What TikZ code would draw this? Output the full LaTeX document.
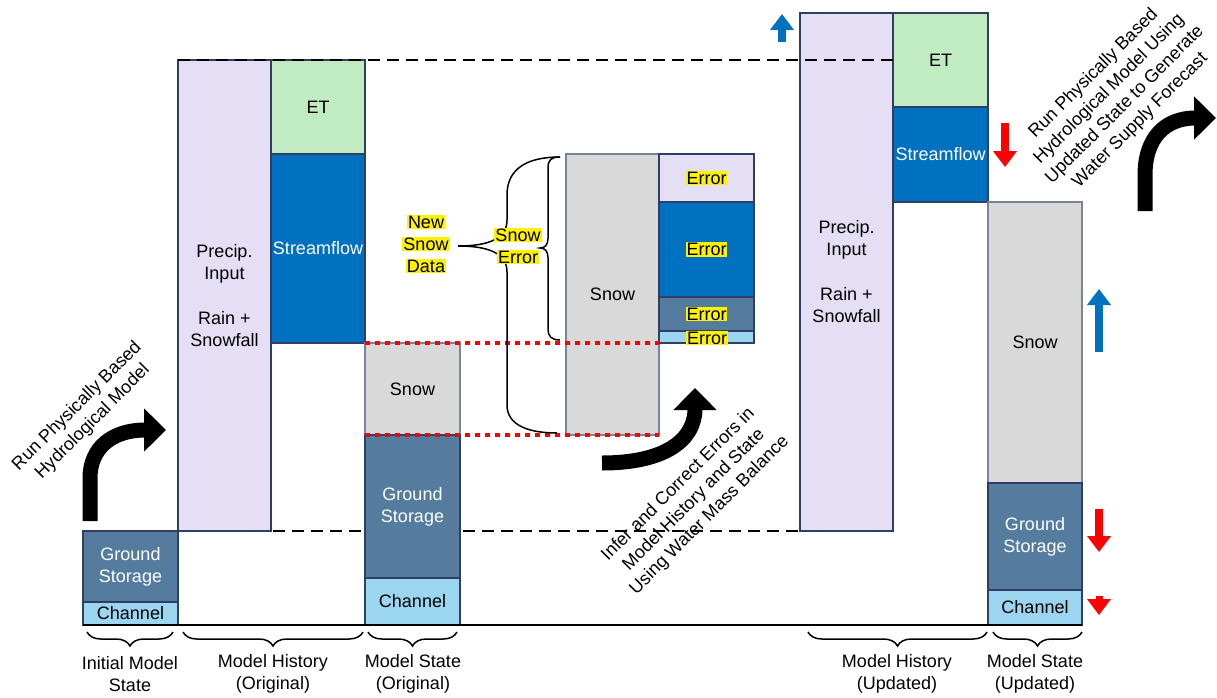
\documentclass[tikz,border=0pt]{standalone}
\usepackage{fontspec}
\setmainfont{Liberation Sans}
\usetikzlibrary{arrows.meta,decorations.pathreplacing}

\definecolor{precip}{RGB}{228,223,244}
\definecolor{etgreen}{RGB}{193,236,193}
\definecolor{flowblue}{RGB}{0,112,192}
\definecolor{snowgray}{RGB}{217,217,217}
\definecolor{ground}{RGB}{83,124,158}
\definecolor{channel}{RGB}{155,213,240}
\definecolor{edge}{RGB}{47,62,98}
\definecolor{snowedge}{RGB}{120,132,152}

\tikzset{
  box/.style={draw=edge, line width=1.2pt, inner sep=0pt, outer sep=0pt, anchor=north west, align=center},
  lbl/.style={align=center},
  hl/.style={fill=yellow, inner sep=0.8pt},
  bigarrow/.style={line width=15pt, -{Triangle[width=42pt,length=22pt]}},
  upd/.style={line width=8pt, -{Triangle[width=23pt,length=16pt]}},
  guide/.style={black, line width=2.5pt, dash pattern=on 12pt off 7pt},
  snowline/.style={red, line width=4pt, dash pattern=on 4.5pt off 5.5pt},
  curly/.style={decorate, decoration={brace, mirror, amplitude=14pt}, line width=1.5pt},
}
\newcommand{\yel}[1]{\colorbox{yellow}{#1}}
\setlength{\fboxsep}{1pt}

\begin{document}
\begin{tikzpicture}[x=1pt, y=-1pt, every node/.style={font=\fontsize{18pt}{22pt}\selectfont}]
\useasboundingbox (0,0) rectangle (1217,698);

\draw[guide] (178,531) -- (893,531);

\node[box, fill=ground, text=white, minimum width=95pt, minimum height=71pt] (gsI) at (83,531) {Ground\\Storage};
\node[box, fill=channel, minimum width=95pt, minimum height=23pt] (chI) at (83,602) {Channel};

\node[box, fill=precip, minimum width=93pt, minimum height=471pt] (precA) at (178,60) {Precip.\\Input\\[23pt]Rain +\\Snowfall};
\node[box, fill=etgreen, minimum width=94pt, minimum height=94pt] (etA) at (271,60) {ET};
\node[box, fill=flowblue, text=white, minimum width=94pt, minimum height=189pt] (sfA) at (271,154) {Streamflow};

\node[box, draw=snowedge, fill=snowgray, minimum width=95pt, minimum height=92pt] (snA) at (365,343) {Snow};
\node[box, fill=ground, text=white, minimum width=95pt, minimum height=143pt] (gsA) at (365,435) {Ground\\Storage};
\node[box, fill=channel, minimum width=95pt, minimum height=47pt] (chA) at (365,578) {Channel};

\node[box, draw=snowedge, fill=snowgray, minimum width=93pt, minimum height=281pt] (snM) at (566,154) {Snow};
\node[box, fill=precip, minimum width=95pt, minimum height=48pt] (erP) at (659,154) {};
\node[box, fill=flowblue, minimum width=95pt, minimum height=95pt] (erF) at (659,202) {};
\node[box, fill=ground, minimum width=95pt, minimum height=34pt] (erG) at (659,297) {};
\node[box, fill=channel, minimum width=95pt, minimum height=12pt] (erC) at (659,331) {};
\node[hl] (errP) at (erP) {Error};
\node[hl] (errF) at (erF) {Error};
\node[hl] (errG) at (erG) {Error};
\node[hl] (errC) at (707,338) {Error};

\node[box, fill=precip, minimum width=93pt, minimum height=518pt] (precB) at (800,13) {Precip.\\Input\\[23pt]Rain +\\Snowfall};
\node[box, fill=etgreen, minimum width=95pt, minimum height=94pt] (etB) at (893,13) {ET};
\node[box, fill=flowblue, text=white, minimum width=95pt, minimum height=95pt] (sfB) at (893,107) {Streamflow};

\node[box, draw=snowedge, fill=snowgray, minimum width=94pt, minimum height=281pt] (snB) at (988,202) {Snow};
\node[box, fill=ground, text=white, minimum width=94pt, minimum height=107pt] (gsB) at (988,483) {Ground\\Storage};
\node[box, fill=channel, minimum width=94pt, minimum height=35pt] (chB) at (988,590) {Channel};

\draw[guide] (precA.north west) -- (precA.north west -| etB.west);
\draw[snowline] (snA.north west) -- (erC.south west);
\draw[snowline] (snA.south west) -- (snM.south east);
\draw[line width=2pt] (chI.south west) -- (chB.south east);

\draw[line width=1.5pt] (560,157) .. controls (528,157) and (507,168) .. (507,195) -- (507,220) .. controls (507,238) and (490,246) .. (458,246) .. controls (490,246) and (507,254) .. (507,272) -- (507,405) .. controls (507,425) and (528,433) .. (557,433);
\draw[line width=1.5pt] (560,157) .. controls (551,157) and (548,160) .. (548,168) -- (548,238) .. controls (548,245) and (545,248) .. (540,248) .. controls (545,248) and (548,251) .. (548,258) -- (548,329) .. controls (548,336) and (551,340) .. (560,340);
\node[lbl] (newdata) at (426,244) {\yel{New}\\\yel{Snow}\\\yel{Data}};
\node[lbl] (snowerr) at (518,246) {\yel{Snow}\\\yel{Error}};

\draw[bigarrow] (90,521) -- (90,478) .. controls (90,448) and (112,430) .. (166,430);
\draw[bigarrow] (602,463) .. controls (665,463) and (695,440) .. (695,388);
\draw[bigarrow] (1145,211) -- (1145,175) .. controls (1145,138) and (1165,118) .. (1216,118);

\node[lbl, rotate=45] (runA) at (85,414) {Run Physically Based\\Hydrological Model};
\node[lbl, rotate=45] (infer) at (694,500) {Infer and Correct Errors in\\Model History and State\\Using Water Mass Balance};
\node[lbl, rotate=45] (runB) at (1117,97) {Run Physically Based\\Hydrological Model Using\\Updated State to Generate\\Water Supply Forecast};

\draw[upd, flowblue] (782,42) -- (782,14);
\draw[upd, red] (1005,123) -- (1005,167);
\draw[upd, flowblue] (1099,352) -- (1099,289);
\draw[upd, red] (1099,509) -- (1099,552);
\draw[upd, red, line width=7pt] (1099,596) -- (1099,615);

\draw[curly] (87,632) -- (173,632);
\draw[curly] (183,632) -- (363,632);
\draw[curly] (368,632) -- (457,632);
\draw[curly] (808,632) -- (987,632);
\draw[curly] (993,632) -- (1082,632);
\node[lbl] (initS) at (130,674) {Initial Model\\State};
\node[lbl] (histA) at (273,674) {Model History\\(Original)};
\node[lbl] (stateA) at (413,674) {Model State\\(Original)};
\node[lbl] (histB) at (897,674) {Model History\\(Updated)};
\node[lbl] (stateB) at (1035,674) {Model State\\(Updated)};
\end{tikzpicture}
\end{document}
